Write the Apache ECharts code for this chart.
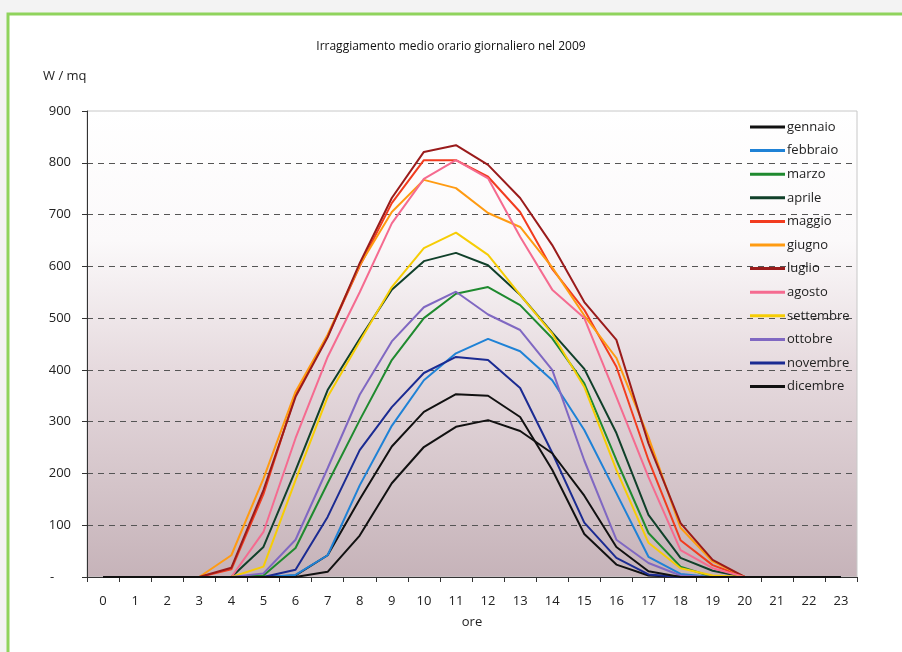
<!DOCTYPE html>
<html>
<head>
<meta charset="utf-8">
<script src="https://cdn.jsdelivr.net/npm/echarts@6/dist/echarts.min.js"></script>
<style>
html,body{margin:0;padding:0;background:#f3f3f3;}
#c{width:902px;height:652px;}
</style>
</head>
<body>
<div id="c"></div>
<script>
const hours = ['0','1','2','3','4','5','6','7','8','9','10','11','12','13','14','15','16','17','18','19','20','21','22','23'];
const monthNames = ['gennaio','febbraio','marzo','aprile','maggio','giugno','luglio','agosto','settembre','ottobre','novembre','dicembre'];
const monthColors = ['#111111','#1f82d6','#1f8a2f','#10402a','#f23c1f','#ff9b12','#9a1b1b','#f56b90','#f6cd05','#8068c2','#1b2b92','#111111'];

const gennaio   = [0,0,0,0,0,0,3,42,150,252,319,353,350,309,207,83,24,3,0,0,0,0,0,0];
const febbraio  = [0,0,0,0,0,0,4,42,177,292,380,432,460,436,380,284,162,39,6,0,0,0,0,0];
const marzo     = [0,0,0,0,0,3,56,181,303,419,500,547,560,525,461,374,226,85,20,0,0,0,0,0];
const aprile    = [0,0,0,0,0,58,206,361,460,555,610,626,602,545,472,402,278,120,37,12,0,0,0,0];
const maggio    = [0,0,0,0,15,160,352,465,600,722,805,805,773,705,595,516,406,226,71,23,0,0,0,0];
const giugno    = [0,0,0,0,42,190,358,468,602,705,767,751,703,676,598,505,423,270,95,30,0,0,0,0];
const luglio    = [0,0,0,0,18,168,348,463,606,732,821,834,796,732,641,531,458,258,104,33,0,0,0,0];
const agosto    = [0,0,0,0,0,87,268,425,550,683,769,805,770,657,555,500,348,193,52,17,0,0,0,0];
const settembre = [0,0,0,0,0,20,187,348,455,560,635,665,622,545,470,367,207,66,17,3,0,0,0,0];
const ottobre   = [0,0,0,0,0,7,72,210,352,455,521,551,507,477,400,225,72,27,3,0,0,0,0,0];
const novembre  = [0,0,0,0,0,0,14,116,245,328,394,425,419,365,240,105,37,5,0,0,0,0,0,0];
const dicembre  = [0,0,0,0,0,0,0,10,80,181,251,290,303,282,239,157,58,11,0,0,0,0,0,0];

const monthData = [gennaio,febbraio,marzo,aprile,maggio,giugno,luglio,agosto,settembre,ottobre,novembre,dicembre];
const yTicks = [0,100,200,300,400,500,600,700,800,900];

const FONT = '"Open Sans", "Noto Sans", sans-serif';
const chart = echarts.init(document.getElementById('c'), null, {renderer:'canvas'});

const series = monthNames.map((name, i) => ({
  name: name,
  type: 'line',
  data: monthData[i],
  symbol: 'none',
  showSymbol: false,
  smooth: false,
  lineStyle: {width: 2, color: monthColors[i]},
  itemStyle: {color: monthColors[i]},
  emphasis: {disabled: true},
  z: 3 + i
}));

chart.setOption({
  animation: false,
  backgroundColor: 'transparent',
  textStyle: {fontFamily: FONT},
  graphic: [
    {type: 'rect', shape: {x: 8, y: 14, width: 910, height: 660},
     style: {fill: '#ffffff', stroke: '#8fd35c', lineWidth: 3}, z: -10, silent: true},
    {type: 'text', left: 43, top: 70,
     style: {text: 'W / mq', fontSize: 13, fontFamily: FONT, fill: '#222'}, z: 10}
  ],
  title: {
    text: 'Irraggiamento medio orario giornaliero nel 2009',
    left: 'center', top: 36,
    textStyle: {fontSize: 12, fontWeight: 'normal', color: '#111', fontFamily: FONT}
  },
  legend: {
    orient: 'vertical',
    left: 750, top: 120,
    icon: 'rect',
    itemWidth: 35, itemHeight: 3, itemGap: 9.6,
    padding: 0,
    textStyle: {fontSize: 13, lineHeight: 14, color: '#222', fontFamily: FONT, padding: [0,0,0,-3]},
    data: monthNames
  },
  grid: {
    left: 87, right: 45, top: 111, bottom: 75,
    show: true,
    borderColor: '#c8c8c8', borderWidth: 1,
    backgroundColor: {
      type: 'linear', x: 0, y: 0, x2: 0, y2: 1,
      colorStops: [
        {offset: 0, color: '#ffffff'},
        {offset: 0.28, color: '#fbf9fa'},
        {offset: 0.55, color: '#e6dade'},
        {offset: 1, color: '#c6b3b9'}
      ]
    }
  },
  xAxis: {
    type: 'category',
    data: hours,
    boundaryGap: true,
    name: 'ore',
    nameLocation: 'middle',
    nameGap: 39,
    nameTextStyle: {fontSize: 13, color: '#222', fontFamily: FONT},
    axisLine: {lineStyle: {color: '#333', width: 1}},
    axisTick: {show: true, length: 5, alignWithLabel: false, lineStyle: {color: '#333'}},
    axisLabel: {fontSize: 13, color: '#222', margin: 18, interval: 0, fontFamily: FONT},
    splitLine: {show: false}
  },
  yAxis: {
    type: 'value',
    min: 0, max: 900, interval: 100,
    axisLine: {show: true, lineStyle: {color: '#333', width: 1}},
    axisTick: {show: true, length: 5, lineStyle: {color: '#333'}},
    axisLabel: {
      fontSize: 13, color: '#222', margin: 16, fontFamily: FONT,
      formatter: v => (v === 0 ? '-     ' : String(v))
    },
    splitLine: {
      show: true,
      lineStyle: {
        type: [6, 5], width: 1,
        color: yTicks.map(t => (t === 0 || t === 900) ? 'rgba(0,0,0,0)' : '#555')
      }
    }
  },
  series: series
});
</script>
</body>
</html>
